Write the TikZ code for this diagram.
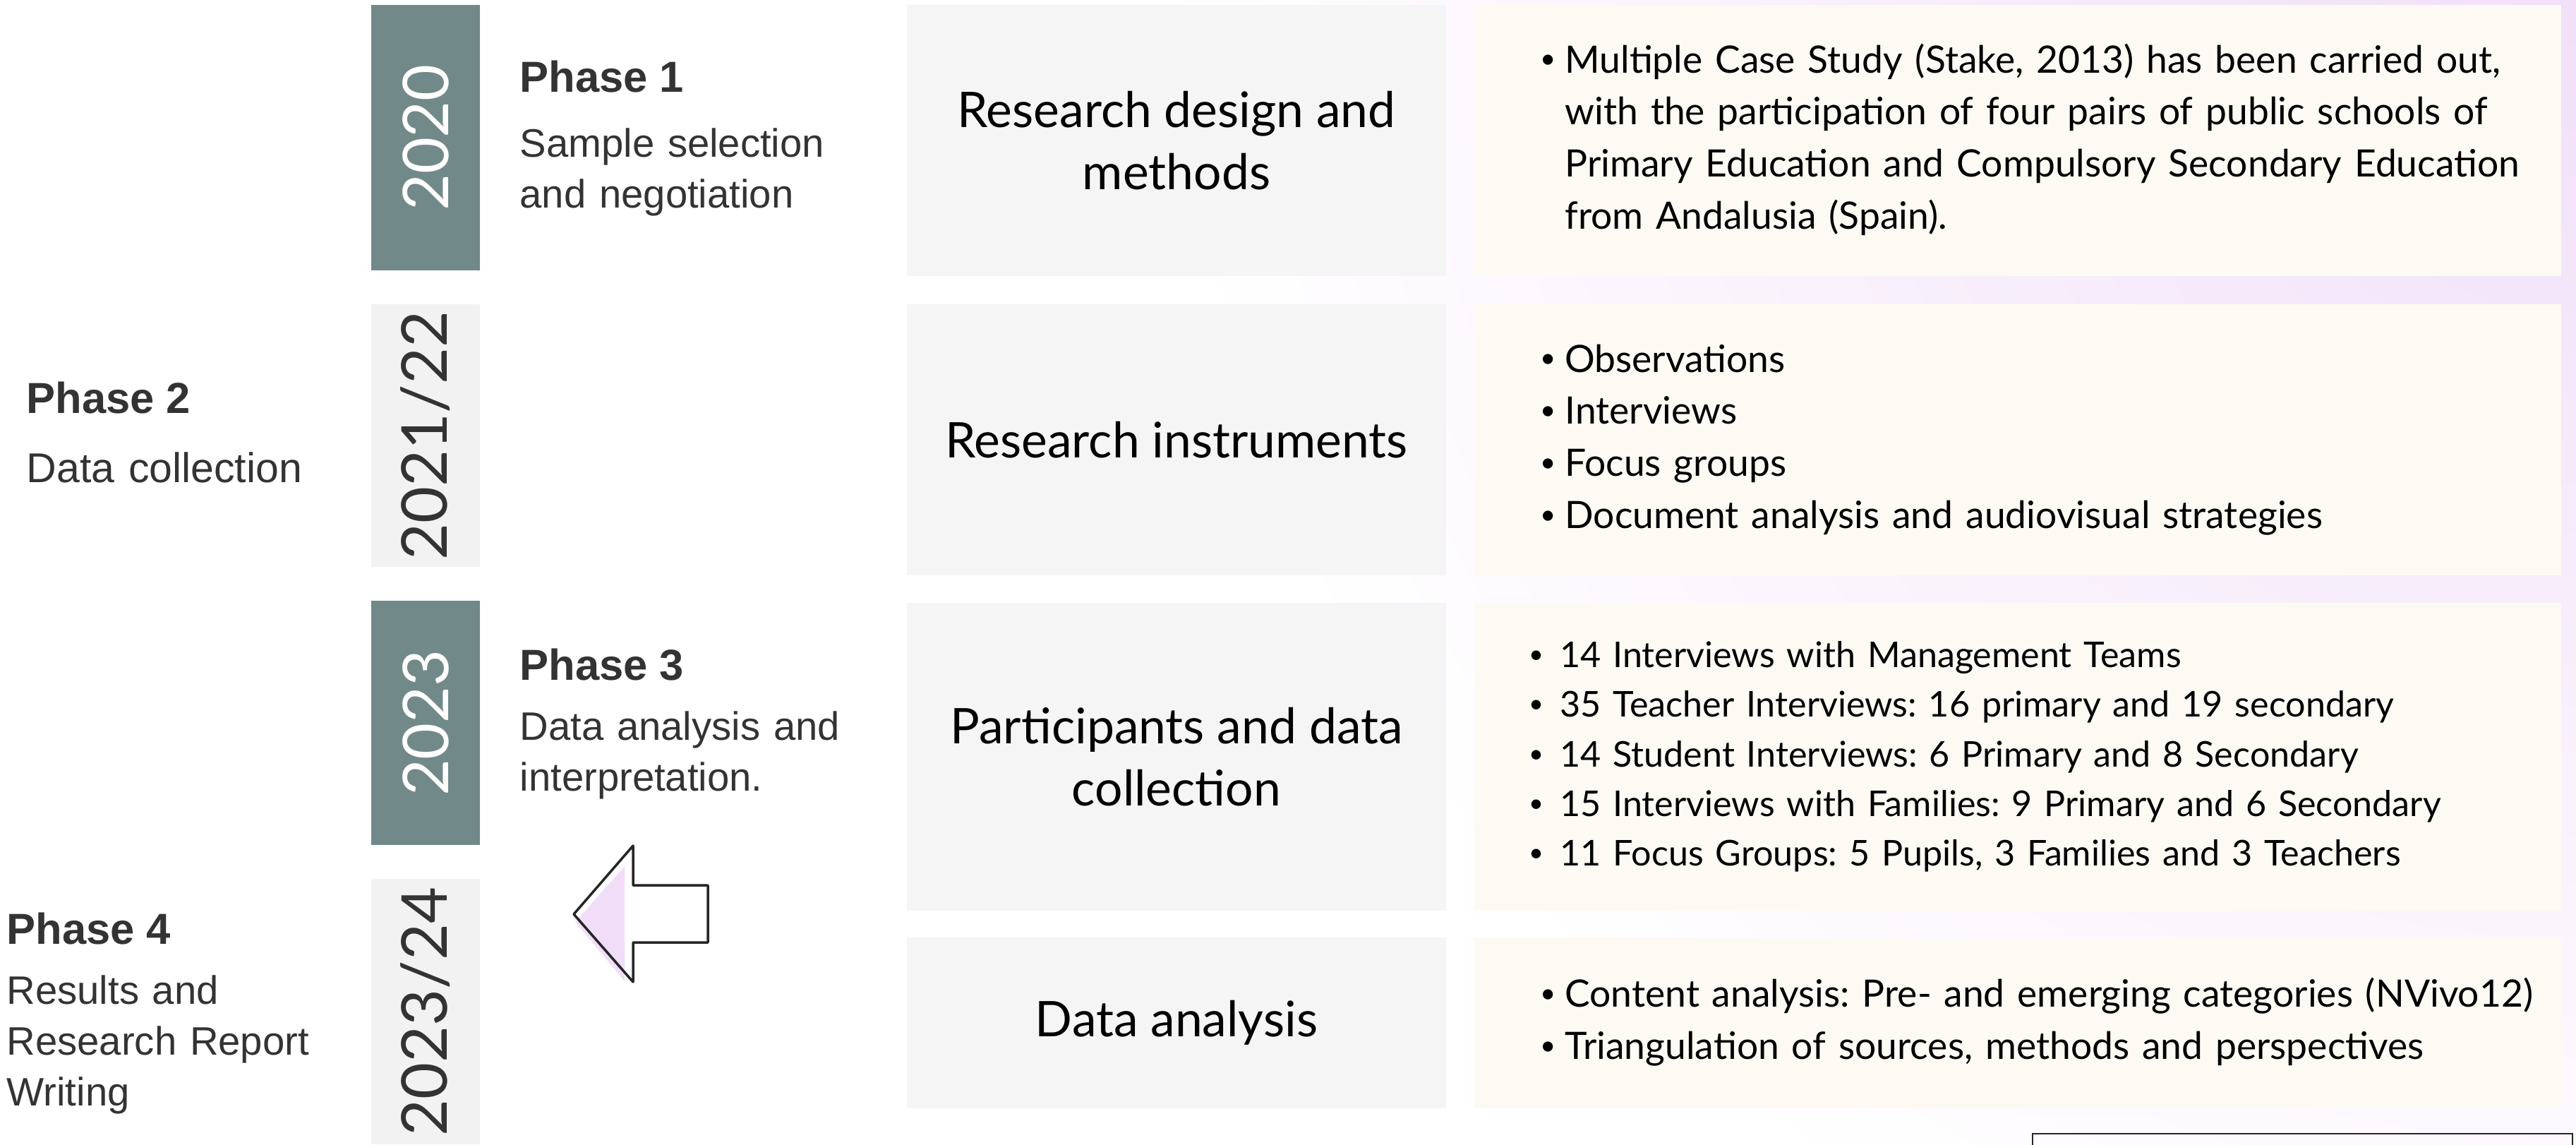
\documentclass[tikz,border=0pt]{standalone}
\usepackage{fontspec}
\setmainfont{Lato}
\newfontfamily\phasefont{Liberation Sans}
\usetikzlibrary{positioning}
\definecolor{YearTeal}{RGB}{114,137,138}
\definecolor{YearGray}{RGB}{242,242,242}
\definecolor{StageGray}{RGB}{245,245,245}
\definecolor{NoteCream}{RGB}{253,250,243}
\definecolor{InkGray}{RGB}{51,51,51}
\definecolor{GlowLilac}{RGB}{241,223,248}
\definecolor{ShadowLilac}{RGB}{242,221,248}
\tikzset{
  yearbar/.style={rectangle,rotate=90,inner sep=0pt,minimum height=1.54cm,
    fill=YearTeal,text=white,font=\fontsize{25.5}{25.5}\selectfont},
  yearbarlight/.style={yearbar,fill=YearGray,text=InkGray},
  phasehead/.style={anchor=base west,inner sep=0pt,text=InkGray,
    font=\phasefont\bfseries\fontsize{17.5}{21}\selectfont},
  phasetext/.style={anchor=base west,inner sep=0pt,text=InkGray,text width=5cm,
    align=left,font=\phasefont\fontsize{16}{20.5}\selectfont},
  stagebox/.style={rectangle,fill=StageGray,minimum width=7.64cm,align=center,
    text=black,font=\fontsize{19.8}{25}\selectfont},
  notebox/.style={rectangle,fill=NoteCream,minimum width=15.4cm,text width=13.54cm,
    inner xsep=0.93cm,align=left,font=\frenchspacing\fontsize{15.2}{21}\selectfont},
}
\newcommand\notebullet{\raisebox{0.12em}{\scalebox{0.72}{\textbullet}}}
\newcommand\notelist[2][0.35cm]{\begin{tabular}{@{}p{#1}@{}l@{}}#2\end{tabular}}

\begin{document}
\begin{tikzpicture}[node distance=0.39cm]
  \useasboundingbox (0,0) rectangle (36.5,-16.21);
  % soft lilac glow in the upper right corner
  \begin{scope}
    \clip (0,0) rectangle (36.5,-16.21);
    \shade[inner color=GlowLilac,outer color=white] (36.5,0.3) circle (20);
  \end{scope}

  % year bars
  \node[yearbar,minimum width=3.76cm] (yr2020) at (6.03,-1.95) {2020};
  \node[yearbarlight,minimum width=3.72cm] (yr2122) at (6.03,-6.17) {2021/22};
  \node[yearbar,minimum width=3.46cm] (yr2023) at (6.03,-10.24) {2023};
  \node[yearbarlight,minimum width=3.76cm] (yr2324) at (6.03,-14.33) {2023/24};

  % phases
  \node[phasehead] (ph1) at (7.36,-1.30) {Phase 1};
  \node[phasetext] (ph1t) at (7.36,-2.22) {Sample selection\\and negotiation};
  \node[phasehead] (ph2) at (0.37,-5.85) {Phase 2};
  \node[phasetext,font=\phasefont\fontsize{16.8}{20.5}\selectfont] (ph2t) at (0.37,-6.83) {Data collection};
  \node[phasehead] (ph3) at (7.36,-9.63) {Phase 3};
  \node[phasetext] (ph3t) at (7.36,-10.48) {Data analysis and\\interpretation.};
  \node[phasehead] (ph4) at (0.09,-13.37) {Phase 4};
  \node[phasetext] (ph4t) at (0.09,-14.22) {Results and\\Research Report\\Writing};

  % stages and what was done in each
  \node[stagebox,minimum height=3.84cm] (design) at (16.67,-1.99) {Research design and\\methods};
  \node[stagebox,minimum height=3.84cm] (instr) at (16.67,-6.23) {Research instruments};
  \node[stagebox,minimum height=4.36cm] (partic) at (16.67,-10.72) {Participants and data\\collection};
  \node[stagebox,minimum height=2.42cm] (analysis) at (16.67,-14.49) {Data analysis};

  \node[notebox,minimum height=3.84cm,right=of design] (designnote) {\notelist{
    \notebullet & Multiple Case Study (Stake, 2013) has been carried out,\\
    & with the participation of four pairs of public schools of\\
    & Primary Education and Compulsory Secondary Education\\
    & from Andalusia (Spain).}};
  \node[notebox,minimum height=3.84cm,right=of instr] (instrnote) {\notelist{
    \notebullet & Observations\\
    \notebullet & Interviews\\
    \notebullet & Focus groups\\
    \notebullet & Document analysis and audiovisual strategies}};
  \node[notebox,minimum height=4.36cm,inner xsep=0.77cm,text width=13.86cm,
    font=\frenchspacing\fontsize{14.3}{20}\selectfont,right=of partic] (particnote) {\notelist[0.44cm]{
    \notebullet & 14 Interviews with Management Teams\\
    \notebullet & 35 Teacher Interviews: 16 primary and 19 secondary\\
    \notebullet & 14 Student Interviews: 6 Primary and 8 Secondary\\
    \notebullet & 15 Interviews with Families: 9 Primary and 6 Secondary\\
    \notebullet & 11 Focus Groups: 5 Pupils, 3 Families and 3 Teachers}};
  \node[notebox,minimum height=2.42cm,right=of analysis] (analysisnote) {\notelist{
    \notebullet & Content analysis: Pre- and emerging categories (NVivo12)\\
    \notebullet & Triangulation of sources, methods and perspectives}};

  % outline arrow with its lilac shadow
  \fill[ShadowLilac] (8.85,-12.27) -- (8.15,-13.06) -- (8.85,-13.90) -- cycle;
  \draw[line width=1pt,line join=round,black!85] (8.13,-12.95) -- (8.97,-11.98) -- (8.97,-12.54)
    -- (10.03,-12.54) -- (10.03,-13.35) -- (8.97,-13.35) -- (8.97,-13.91) -- cycle;

  % frame running off the lower edge
  \draw[line width=0.6pt,black!85] (28.80,-16.3) |- (36.45,-16.06) -- (36.45,-16.3);
\end{tikzpicture}
\end{document}
